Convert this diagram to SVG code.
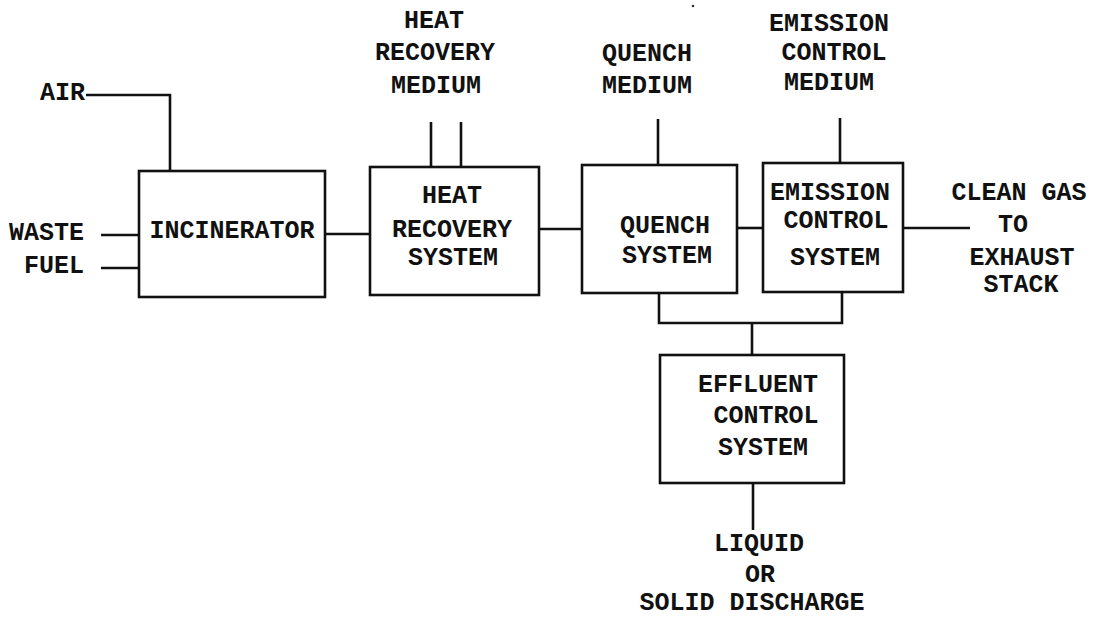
<svg xmlns="http://www.w3.org/2000/svg" width="1101" height="618" viewBox="0 0 1101 618">
<style>
  .box { fill: #ffffff; stroke: #111; stroke-width: 2.6; }
  .ln { fill: none; stroke: #111; stroke-width: 2.6; stroke-linejoin: miter; }
  text { font-family: "Liberation Mono", "DejaVu Sans Mono", monospace; font-weight: bold; font-size: 25px; fill: #111; }
  .m { text-anchor: middle; }
  .e { text-anchor: end; }
</style>
<rect x="0" y="0" width="1101" height="618" fill="#ffffff"/>
<g id="connectors">
  <path class="ln" d="M86,95 H170 V171"/>
  <path class="ln" d="M101,235 H139"/>
  <path class="ln" d="M101,268 H139"/>
  <path class="ln" d="M325,234 H370"/>
  <path class="ln" d="M431,122 V167"/>
  <path class="ln" d="M461,122 V167"/>
  <path class="ln" d="M539,229 H582"/>
  <path class="ln" d="M658,119 V165"/>
  <path class="ln" d="M737,228 H763"/>
  <path class="ln" d="M840,118 V163"/>
  <path class="ln" d="M903,228 H970"/>
  <path class="ln" d="M659,293 V323 H842 V292"/>
  <path class="ln" d="M752,323 V355"/>
  <path class="ln" d="M753,483 V530"/>
</g>
<g id="labels">
  <text class="e" x="85" y="100">AIR</text>
  <text class="e" x="84" y="240">WASTE</text>
  <text class="e" x="84" y="273">FUEL</text>
  <text class="m" x="434" y="28">HEAT</text>
  <text class="m" x="435" y="60">RECOVERY</text>
  <text class="m" x="436" y="93">MEDIUM</text>
  <text class="m" x="647" y="61">QUENCH</text>
  <text class="m" x="647" y="93">MEDIUM</text>
  <text class="m" x="829" y="31">EMISSION</text>
  <text class="m" x="834" y="60">CONTROL</text>
  <text class="m" x="829" y="90">MEDIUM</text>
  <text class="m" x="1019" y="200">CLEAN GAS</text>
  <text class="m" x="1013" y="232">TO</text>
  <text class="m" x="1022" y="265">EXHAUST</text>
  <text class="m" x="1021" y="292">STACK</text>
  <text class="m" x="759" y="551">LIQUID</text>
  <text class="m" x="760" y="582">OR</text>
  <text class="m" x="752" y="610">SOLID DISCHARGE</text>
</g>
<g id="incinerator">
  <rect class="box" x="139" y="171" width="186" height="126"/>
  <text class="m" x="232" y="238">INCINERATOR</text>
</g>
<g id="heat-recovery">
  <rect class="box" x="370" y="167" width="169" height="128"/>
  <text class="m" x="452" y="203">HEAT</text>
  <text class="m" x="452" y="237">RECOVERY</text>
  <text class="m" x="453" y="265">SYSTEM</text>
</g>
<g id="quench">
  <rect class="box" x="582" y="165" width="155" height="128"/>
  <text class="m" x="665" y="233">QUENCH</text>
  <text class="m" x="667" y="263">SYSTEM</text>
</g>
<g id="emission-control">
  <rect class="box" x="763" y="163" width="140" height="129"/>
  <text class="m" x="830" y="200">EMISSION</text>
  <text class="m" x="836" y="228">CONTROL</text>
  <text class="m" x="835" y="265">SYSTEM</text>
</g>
<g id="effluent-control">
  <rect class="box" x="660" y="355" width="184" height="128"/>
  <text class="m" x="758" y="392">EFFLUENT</text>
  <text class="m" x="766" y="423">CONTROL</text>
  <text class="m" x="763" y="455">SYSTEM</text>
</g>
<circle cx="693" cy="6" r="1.3" fill="#333"/>
</svg>
